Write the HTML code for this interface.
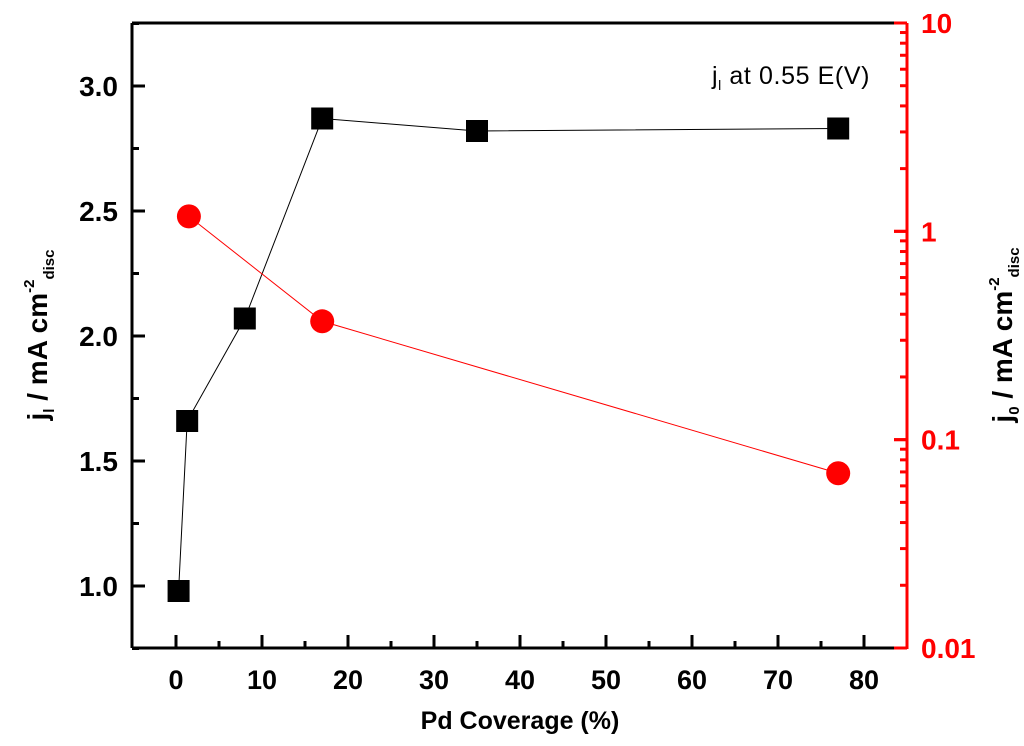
<!DOCTYPE html>
<html><head><meta charset="utf-8"><style>
html,body{margin:0;padding:0;background:#fff;}
svg{display:block;font-family:"Liberation Sans",Arial,sans-serif;}
</style></head><body>
<svg id="chart" width="1024" height="746" viewBox="0 0 1024 746"></svg>
<script>
const xTicks=[0,10,20,30,40,50,60,70,80];
const yLeftTicks=[1.0,1.5,2.0,2.5,3.0];
const yLeftLabels=["1.0","1.5","2.0","2.5","3.0"];
const yRightTicks=[0.01,0.1,1,10];
const yRightLabels=["0.01","0.1","1","10"];
const sqX=[0.3,1.3,8,17,35,77];
const sqY=[0.98,1.66,2.07,2.87,2.82,2.83];
const ciX=[1.5,17,77];
const ciY=[1.18,0.37,0.069];
const NS="http://www.w3.org/2000/svg";
const svg=document.getElementById('chart');
const L=132,R=907,T=23,B=648;
const xs=v=>176+v*8.6;
const yl=v=>586-(v-1)*250;
const yr=v=>23+(1-Math.log10(v))*208.33;
function el(tag,attrs,parent){const e=document.createElementNS(NS,tag);for(const k in attrs)e.setAttribute(k,attrs[k]);(parent||svg).appendChild(e);return e;}
function txt(s,x,y,attrs){const t=el('text',Object.assign({x:x,y:y},attrs));t.textContent=s;return t;}
let a=el('line',{x1:L,y1:T,x2:R,y2:T,stroke:'#000','stroke-width':3});

a=el('line',{x1:L,y1:B,x2:R,y2:B,stroke:'#000','stroke-width':3});

a=el('line',{x1:L,y1:T,x2:L,y2:B,stroke:'#000','stroke-width':3});

a=el('line',{x1:R,y1:T,x2:R,y2:B+1,stroke:'#f00','stroke-width':3});

xTicks.forEach((v,i)=>{
  const x=xs(v);
  el('line',{x1:x,y1:B,x2:x,y2:B-13,stroke:'#000','stroke-width':3});
  if(i<xTicks.length-1){const xm=xs(v+5);el('line',{x1:xm,y1:B,x2:xm,y2:B-7,stroke:'#000','stroke-width':3});}
  const t=txt(String(v),x,689,{'font-size':27,'font-weight':'bold','text-anchor':'middle'});
  
});
for(let v=0.75;v<=3.25;v+=0.25){const y=yl(v);const major=Math.abs(v*2-Math.round(v*2))<1e-6;
  el('line',{x1:L,y1:y,x2:L+(major?13:7),y2:y,stroke:'#000','stroke-width':3});}
yLeftTicks.forEach((v,i)=>{const t=txt(yLeftLabels[i],118,yl(v)+10,{'font-size':28,'font-weight':'bold','text-anchor':'end'});
  });
for(let d=-2;d<1;d++){for(let m=1;m<=10;m++){const v=m*Math.pow(10,d);const y=yr(v);
  el('line',{x1:R,y1:y,x2:R-(m===1||m===10?13:7),y2:y,stroke:'#f00','stroke-width':3});}}
yRightTicks.forEach((v,i)=>{const t=txt(yRightLabels[i],921,yr(v)+10,{'font-size':28,'font-weight':'bold',fill:'#f00'});
  });
let pl=el('polyline',{points:sqX.map((x,i)=>xs(x)+','+yl(sqY[i])).join(' '),fill:'none',stroke:'#000','stroke-width':1});

pl=el('polyline',{points:ciX.map((x,i)=>xs(x)+','+yr(ciY[i])).join(' '),fill:'none',stroke:'#f00','stroke-width':1});

sqX.forEach((x,i)=>{const r=el('rect',{x:xs(x)-11,y:yl(sqY[i])-11,width:22,height:22,fill:'#000'});
  });
ciX.forEach((x,i)=>{const c=el('circle',{cx:xs(x),cy:yr(ciY[i]),r:12,fill:'#f00'});
  });
</script>
<div style="position:absolute;left:0;top:0;width:1024px;height:746px;pointer-events:none">
<svg width="1024" height="746" style="position:absolute;left:0;top:0">
<text x="712" y="84" font-size="25" letter-spacing="0.6" font-family="Liberation Sans, sans-serif">j<tspan font-size="14" dy="6">l</tspan><tspan dy="-6"> at 0.55 E(V)</tspan></text>
<text x="520" y="729" font-size="25" font-weight="bold" text-anchor="middle" font-family="Liberation Sans, sans-serif">Pd Coverage (%)</text>
<text transform="translate(47,335) rotate(-90)" font-size="28" font-weight="bold" text-anchor="middle" font-family="Liberation Sans, sans-serif">j<tspan font-size="15" dy="7">l</tspan><tspan dy="-7"> / mA cm</tspan><tspan font-size="15" dy="-13">-2</tspan><tspan font-size="15" dy="20">disc</tspan></text>
<text transform="translate(1012,335) rotate(-90)" font-size="28" font-weight="bold" text-anchor="middle" font-family="Liberation Sans, sans-serif">j<tspan font-size="15" dy="7">0</tspan><tspan dy="-7"> / mA cm</tspan><tspan font-size="15" dy="-13">-2</tspan><tspan font-size="15" dy="20">disc</tspan></text>
</svg></div>
</body></html>
